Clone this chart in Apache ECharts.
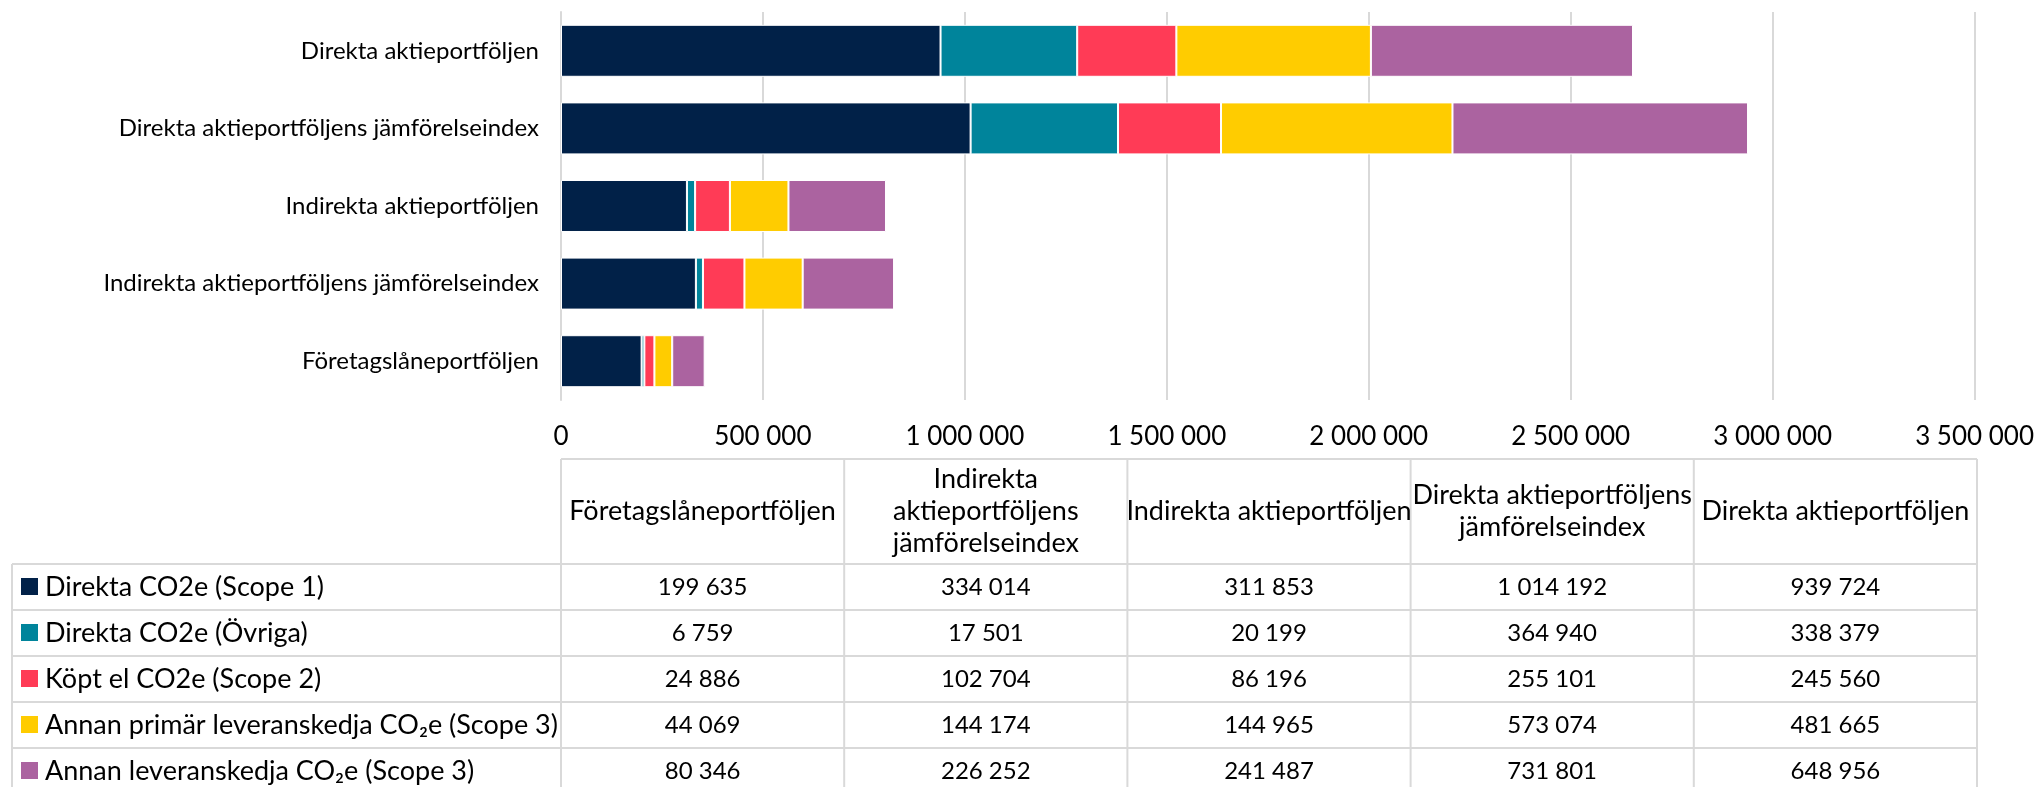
<!DOCTYPE html>
<html>
<head>
<meta charset="utf-8">
<script src="https://cdn.jsdelivr.net/npm/echarts@6/dist/echarts.min.js"></script>
<style>
  html, body { margin: 0; padding: 0; background: #fff; }
  #chart { width: 2037px; height: 787px; }
</style>
</head>
<body>
<div id="chart"></div>
<script>
// categories, bottom to top on the chart = left to right in the table
const categories = [
  'Företagslåneportföljen',
  'Indirekta aktieportföljens jämförelseindex',
  'Indirekta aktieportföljen',
  'Direkta aktieportföljens jämförelseindex',
  'Direkta aktieportföljen'
];
const headerLabels = [
  'Företagslåneportföljen',
  'Indirekta\naktieportföljens\njämförelseindex',
  'Indirekta aktieportföljen',
  'Direkta aktieportföljens\njämförelseindex',
  'Direkta aktieportföljen'
];
const seriesNames = [
  'Direkta CO2e (Scope 1)',
  'Direkta CO2e (Övriga)',
  'Köpt el CO2e (Scope 2)',
  'Annan primär leveranskedja CO₂e (Scope 3)',
  'Annan leveranskedja CO₂e (Scope 3)'
];
const seriesColors = ['#012148', '#00849b', '#ff3b56', '#ffcc00', '#ab63a0'];

const scope1 = [199635, 334014, 311853, 1014192, 939724];
const ovriga = [6759, 17501, 20199, 364940, 338379];
const scope2 = [24886, 102704, 86196, 255101, 245560];
const primar = [44069, 144174, 144965, 573074, 481665];
const annan = [80346, 226252, 241487, 731801, 648956];
const seriesValues = [scope1, ovriga, scope2, primar, annan];

const xMin = 0;
const xMax = 3500000;
const xStep = 500000;

const FONT = "Lato, 'Liberation Sans', sans-serif";
const FS = 24;        // category labels, table numbers
const FS_TICK = 26;   // x axis numbers
const FS_TEXT = 27;   // table header + legend names
const GRID_LEFT = 561, GRID_RIGHT = 1977, GRID_TOP = 12, GRID_BOTTOM = 400;

function fmt(v) {
  return String(v).replace(/\B(?=(\d{3})+(?!\d))/g, ' ');
}

// table below the chart, built from the same arrays
const TABLE_TOP = 459, HEAD_BOTTOM = 564, ROW_H = 46, TABLE_LEFT = 12, PAGE_BOTTOM = 800;
const colW = (GRID_RIGHT - GRID_LEFT) / categories.length;
const lineStyle = { stroke: '#d9d9d9', lineWidth: 2 };
const graphics = [];

graphics.push({ type: 'line', shape: { x1: GRID_LEFT, y1: TABLE_TOP, x2: GRID_RIGHT, y2: TABLE_TOP }, style: lineStyle });
for (let r = 0; r <= seriesNames.length; r++) {
  const y = HEAD_BOTTOM + r * ROW_H;
  graphics.push({ type: 'line', shape: { x1: TABLE_LEFT, y1: y, x2: GRID_RIGHT, y2: y }, style: lineStyle });
}
graphics.push({ type: 'line', shape: { x1: TABLE_LEFT, y1: HEAD_BOTTOM, x2: TABLE_LEFT, y2: PAGE_BOTTOM }, style: lineStyle });
for (let c = 0; c <= categories.length; c++) {
  const x = GRID_LEFT + c * colW;
  graphics.push({ type: 'line', shape: { x1: x, y1: TABLE_TOP, x2: x, y2: PAGE_BOTTOM }, style: lineStyle });
}
headerLabels.forEach((h, c) => {
  graphics.push({
    type: 'text',
    style: {
      text: h, x: GRID_LEFT + (c + 0.5) * colW, y: (TABLE_TOP + HEAD_BOTTOM) / 2,
      align: 'center', verticalAlign: 'middle', fontSize: FS_TEXT, fontFamily: FONT,
      lineHeight: 32, fill: '#000'
    }
  });
});
seriesNames.forEach((name, r) => {
  const cy = HEAD_BOTTOM + (r + 0.5) * ROW_H;
  graphics.push({ type: 'rect', shape: { x: 21, y: cy - 9, width: 17, height: 17 }, style: { fill: seriesColors[r] } });
  graphics.push({
    type: 'text',
    style: { text: name, x: 45, y: cy, align: 'left', verticalAlign: 'middle', fontSize: FS_TEXT, fontFamily: FONT, fill: '#000' }
  });
  seriesValues[r].forEach((v, c) => {
    graphics.push({
      type: 'text',
      style: {
        text: fmt(v), x: GRID_LEFT + (c + 0.5) * colW, y: cy,
        align: 'center', verticalAlign: 'middle', fontSize: FS, fontFamily: FONT, fill: '#000'
      }
    });
  });
});

const chart = echarts.init(document.getElementById('chart'));
chart.setOption({
  animation: false,
  backgroundColor: '#fff',
  grid: { left: GRID_LEFT, right: 2037 - GRID_RIGHT, top: GRID_TOP, bottom: 787 - GRID_BOTTOM, containLabel: false },
  xAxis: {
    type: 'value',
    min: xMin, max: xMax, interval: xStep,
    axisLine: { show: false },
    axisTick: { show: false },
    splitLine: { lineStyle: { color: '#d9d9d9', width: 2 } },
    axisLabel: { formatter: fmt, color: '#000', fontSize: FS_TICK, fontFamily: FONT, margin: 24 }
  },
  yAxis: {
    type: 'category',
    data: categories,
    axisLine: { lineStyle: { color: '#d9d9d9', width: 2 } },
    axisTick: { show: false },
    axisLabel: { color: '#000', fontSize: FS, fontFamily: FONT, margin: 22 }
  },
  series: seriesNames.map((name, i) => ({
    name: name,
    type: 'bar',
    stack: 'total',
    barCategoryGap: '33%',
    data: seriesValues[i],
    itemStyle: { color: seriesColors[i], borderColor: '#fff', borderWidth: 1 }
  })),
  graphic: graphics
});
</script>
</body>
</html>
